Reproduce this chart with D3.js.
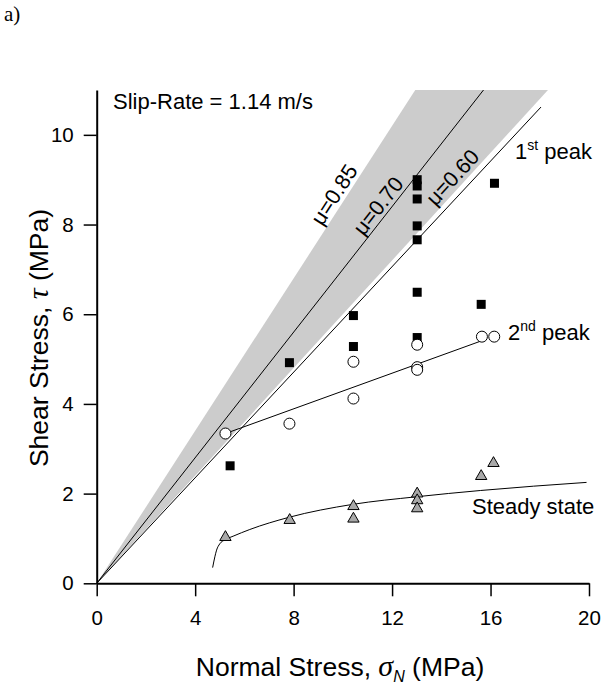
<!DOCTYPE html>
<html>
<head>
<meta charset="utf-8">
<script src="https://cdn.jsdelivr.net/npm/d3@7"></script>
<style>
    body { margin: 0; background: #fff; }
    text { font-family: 'Liberation Sans', Arial, sans-serif; fill: #000; }
</style>
</head>
<body>
<svg id="chart" width="603" height="694"></svg>
<script>
// data (normal stress, shear stress) in MPa
const firstPeak = [
    [5.42, 2.62], [7.83, 4.92], [10.43, 5.97], [10.43, 5.28],
    [13.02, 9.0], [13.02, 8.86], [13.02, 8.57], [13.02, 7.97], [13.02, 7.66],
    [13.02, 6.49], [13.02, 5.48], [15.62, 6.22], [16.16, 8.92]
];
const secondPeak = [
    [5.23, 3.34], [7.83, 3.56], [10.43, 4.12], [10.43, 4.94],
    [13.02, 5.32], [13.02, 4.82], [13.02, 4.76], [15.65, 5.5], [16.15, 5.5]
];
const steadyState = [
    [5.23, 1.05], [7.84, 1.43], [10.43, 1.74], [10.43, 1.46],
    [13.02, 2.02], [13.02, 1.87], [13.02, 1.69], [15.62, 2.41], [16.12, 2.7]
];

// friction coefficients
const muBand = [0.60, 0.85];
const muMid = 0.70;
const muLabels = ['0.85', '0.70', '0.60'];

// fitted lines
const firstPeakLine = [[0, 0], [18.05, 10.62]];
const secondPeakLine = [[5.23, 3.34], [15.7, 5.42]];
const steadyCurve = [
    [4.71, 0.35], [4.8, 0.59], [4.87, 0.74], [5.0, 0.88], [5.21, 0.97],
    [5.54, 1.05], [6.22, 1.2], [7.8, 1.47], [10.4, 1.76], [13.0, 1.93],
    [15.6, 2.07], [19.9, 2.25]
];

const xTicks = [0, 4, 8, 12, 16, 20];
const yTicks = [0, 2, 4, 6, 8, 10];
const yMax = 11;

const svg = d3.select('#chart');

const x = d3.scaleLinear().domain([0, 20]).range([96.7, 589]);
const y = d3.scaleLinear().domain([0, yMax]).range([583.3, 90]);

// angle of a line tau = mu * sigma, in screen degrees
const angleOf = (mu) => -Math.atan((mu * (y(0) - y(1))) / (x(1) - x(0))) * 180 / Math.PI;

// grey band between the two friction bounds
svg.append('path')
    .datum([[0, 0], [yMax / muBand[1], yMax], [yMax / muBand[0], yMax]])
    .attr('d', (d) => 'M' + d.map((p) => [x(p[0]), y(p[1])].join(',')).join('L') + 'Z')
    .attr('fill', '#cccccc');

const line = d3.line().x((d) => x(d[0])).y((d) => y(d[1]));

[[[0, 0], [yMax / muMid, yMax]], firstPeakLine, secondPeakLine].forEach((pts) => {
    svg.append('path')
        .attr('d', line(pts))
        .attr('fill', 'none')
        .attr('stroke', '#000')
        .attr('stroke-width', 1);
});

svg.append('path')
    .attr('d', line.curve(d3.curveMonotoneX)(steadyCurve))
    .attr('fill', 'none')
    .attr('stroke', '#000')
    .attr('stroke-width', 1);

// axes
const axisX = svg.append('g').attr('transform', `translate(0,${y(0)})`);
axisX.call(d3.axisBottom(x).tickValues(d3.range(0, 21)).tickSize(9).tickSizeOuter(0).tickFormat(''));
axisX.call(d3.axisBottom(x).tickValues(xTicks).tickSize(13).tickSizeOuter(0).tickPadding(14).tickFormat(d3.format('d')));

const axisY = svg.append('g').attr('transform', `translate(${x(0)},0)`);
axisY.call(d3.axisLeft(y).tickValues(d3.range(0, yMax + 1)).tickSize(9).tickSizeOuter(0).tickFormat(''));
axisY.call(d3.axisLeft(y).tickValues(yTicks).tickSize(13).tickSizeOuter(0).tickPadding(10).tickFormat(d3.format('d')));

svg.selectAll('.domain').attr('stroke', '#000').attr('stroke-width', 2);
svg.selectAll('.tick line').attr('stroke', '#000').attr('stroke-width', 1.5);
svg.selectAll('.tick text')
    .attr('font-size', 20.5)
    .attr('font-family', 'Liberation Sans, Arial, sans-serif');

// markers
svg.append('g')
    .selectAll('path')
    .data(steadyState)
    .join('path')
    .attr('transform', (d) => `translate(${x(d[0])},${y(d[1]) + 1})`)
    .attr('d', d3.symbol(d3.symbolTriangle, 56))
    .attr('fill', '#a8a8a8')
    .attr('stroke', '#000')
    .attr('stroke-width', 1);

svg.append('g')
    .selectAll('rect')
    .data(firstPeak)
    .join('rect')
    .attr('x', (d) => x(d[0]) - 4.5)
    .attr('y', (d) => y(d[1]) - 4.5)
    .attr('width', 9)
    .attr('height', 9)
    .attr('fill', '#000');

svg.append('g')
    .selectAll('circle')
    .data(secondPeak)
    .join('circle')
    .attr('cx', (d) => x(d[0]))
    .attr('cy', (d) => y(d[1]))
    .attr('r', 5.5)
    .attr('fill', '#fff')
    .attr('stroke', '#000')
    .attr('stroke-width', 1);

// mu labels sit just above their line
const muAt = [8.53, 8.26, 8.88];
[muBand[1], muMid, muBand[0]].forEach((mu, i) => {
    svg.append('text')
        .attr('transform', `translate(${x(muAt[i] / mu)},${y(muAt[i])}) rotate(${angleOf(mu)})`)
        .attr('text-anchor', 'middle')
        .attr('dy', -4)
        .attr('font-size', 21.5)
        .text('μ=' + muLabels[i]);
});

// annotations
svg.append('text')
    .attr('x', 113)
    .attr('y', 109)
    .attr('font-size', 22)
    .text('Slip-Rate = 1.14 m/s');

const peakLabel = (px, py, num, sup) => {
    const t = svg.append('text').attr('x', px).attr('y', py).attr('font-size', 22);
    t.append('tspan').text(num);
    t.append('tspan').attr('font-size', 14).attr('dy', -9).text(sup);
    t.append('tspan').attr('dy', 9).text(' peak');
};
peakLabel(515, 159, '1', 'st');
peakLabel(508, 340, '2', 'nd');

svg.append('text')
    .attr('x', 472)
    .attr('y', 514)
    .attr('font-size', 22)
    .text('Steady state');

svg.append('text')
    .attr('x', 4)
    .attr('y', 21)
    .attr('font-size', 21)
    .style('font-family', 'Liberation Serif, Times New Roman, serif')
    .text('a)');

// axis titles
const xTitle = svg.append('text')
    .attr('x', 340)
    .attr('y', 676)
    .attr('text-anchor', 'middle')
    .attr('font-size', 26.5);
xTitle.append('tspan').text('Normal Stress, ');
xTitle.append('tspan')
    .style('font-family', 'Liberation Serif, serif')
    .style('font-style', 'italic')
    .attr('font-size', 30)
    .text('σ');
xTitle.append('tspan')
    .style('font-style', 'italic')
    .attr('font-size', 16)
    .attr('dy', 6)
    .text('N');
xTitle.append('tspan').attr('dy', -6).text(' (MPa)');

const yTitle = svg.append('text')
    .attr('transform', 'translate(48,338) rotate(-90)')
    .attr('text-anchor', 'middle')
    .attr('font-size', 26.5);
yTitle.append('tspan').text('Shear Stress,  ');
yTitle.append('tspan')
    .style('font-family', 'Liberation Serif, serif')
    .style('font-style', 'italic')
    .attr('font-size', 30)
    .text('τ');
yTitle.append('tspan').text(' (MPa)');
</script>
</body>
</html>
